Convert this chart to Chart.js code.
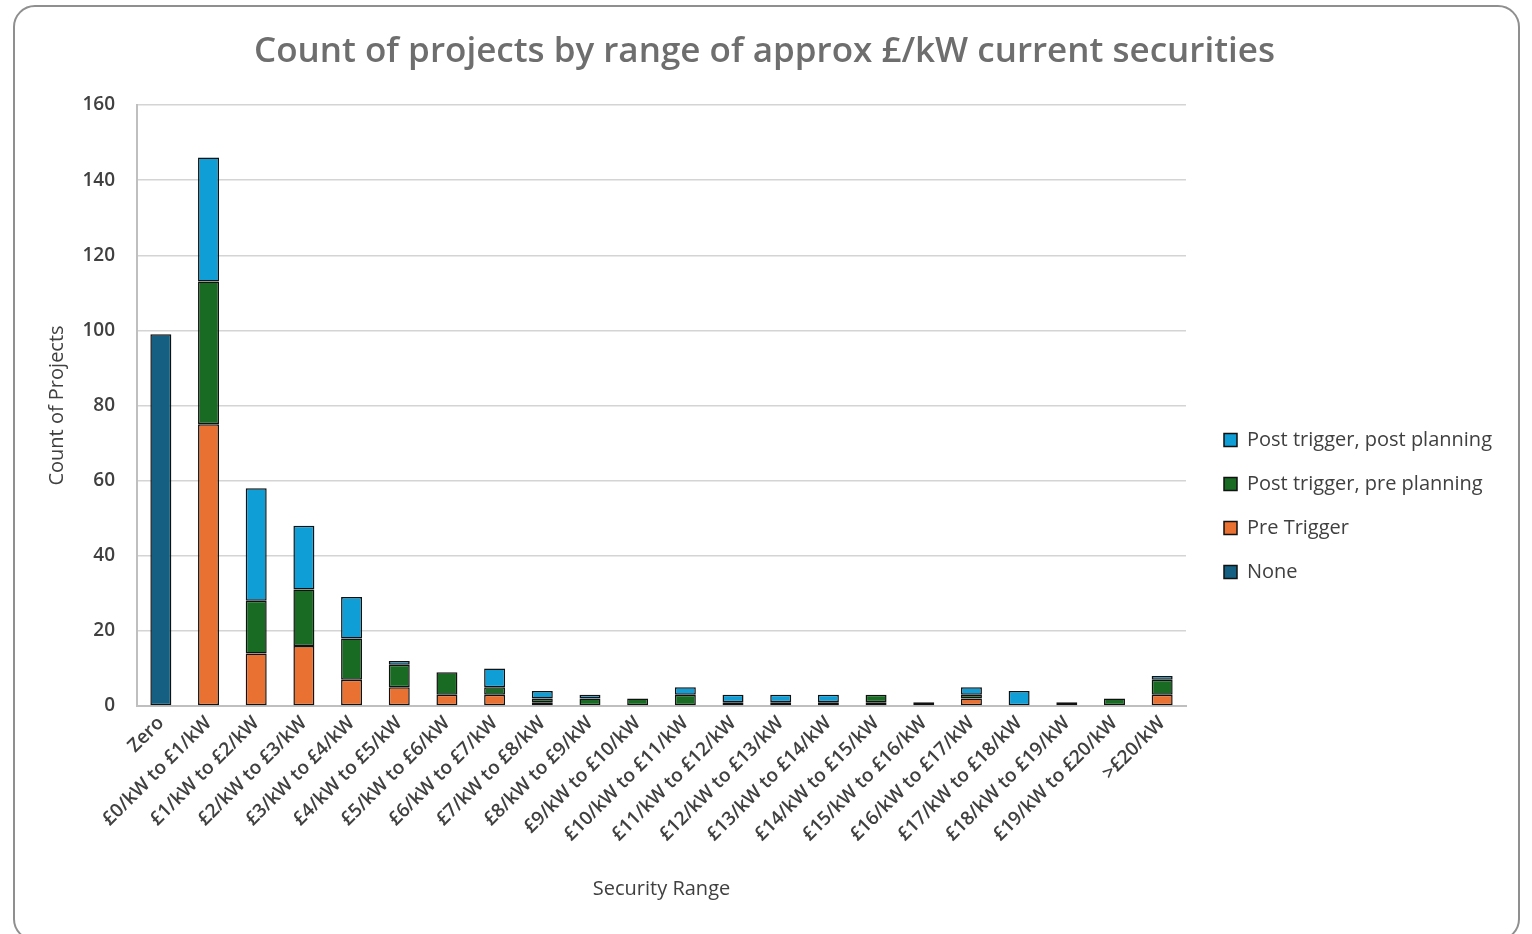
<!DOCTYPE html>
<html>
<head>
<meta charset="utf-8">
<script src="https://cdn.jsdelivr.net/npm/chart.js@4.4.1/dist/chart.umd.min.js"></script>
<style>
  html, body { margin: 0; padding: 0; background: #ffffff; }
  #frame { position: absolute; left: 13px; top: 5px; width: 1507px; height: 936px; border: 2px solid #8f8f8f; border-radius: 22px; box-sizing: border-box; }
  #wrap { position: absolute; left: 0; top: 0; width: 1532px; height: 934px; }
</style>
</head>
<body>
<div id="frame"></div>
<div id="wrap"><canvas id="c" width="1532" height="934"></canvas></div>
<script>
const categories = ["Zero","£0/kW to £1/kW","£1/kW to £2/kW","£2/kW to £3/kW","£3/kW to £4/kW","£4/kW to £5/kW","£5/kW to £6/kW","£6/kW to £7/kW","£7/kW to £8/kW","£8/kW to £9/kW","£9/kW to £10/kW","£10/kW to £11/kW","£11/kW to £12/kW","£12/kW to £13/kW","£13/kW to £14/kW","£14/kW to £15/kW","£15/kW to £16/kW","£16/kW to £17/kW","£17/kW to £18/kW","£18/kW to £19/kW","£19/kW to £20/kW",">£20/kW"];
const noneVals        = [99, 0, 0, 0, 0, 0, 0, 0, 0, 0, 0, 0, 0, 0, 0, 0, 0, 0, 0, 0, 0, 0];
const preTrigger      = [0, 75, 14, 16, 7, 5, 3, 3, 1, 0, 0, 0, 0, 0, 0, 1, 1, 2, 0, 0, 0, 3];
const postPrePlanning = [0, 38, 14, 15, 11, 6, 6, 2, 1, 2, 2, 3, 1, 1, 1, 2, 0, 1, 0, 0, 2, 4];
const postPostPlanning= [0, 33, 30, 17, 11, 1, 0, 5, 2, 1, 0, 2, 2, 2, 2, 0, 0, 2, 4, 1, 0, 1];
const yTicks = [0, 20, 40, 60, 80, 100, 120, 140, 160];

const nz = a => a.map(v => v === 0 ? null : v);
const FONT = "'Open Sans', 'Noto Sans', sans-serif";

const legendPlace = {
  id: 'legendPlace',
  afterLayout(chart) {
    const lg = chart.legend;
    const w = lg.width;
    lg.left = 1200; lg.right = 1200 + w;
    lg.top = 406; lg.bottom = 406 + 220;
  }
};

new Chart(document.getElementById('c'), {
  type: 'bar',
  data: {
    labels: categories,
    datasets: [
      { label: 'None', data: nz(noneVals), backgroundColor: '#156082' },
      { label: 'Pre Trigger', data: nz(preTrigger), backgroundColor: '#E97132' },
      { label: 'Post trigger, pre planning', data: nz(postPrePlanning), backgroundColor: '#196B24' },
      { label: 'Post trigger, post planning', data: nz(postPostPlanning), backgroundColor: '#0F9ED5' }
    ].map(d => Object.assign(d, { borderColor: '#111111', borderWidth: 1.5, borderSkipped: false, categoryPercentage: 1.0, barPercentage: 0.44 }))
  },
  options: {
    responsive: false,
    animation: false,
    devicePixelRatio: 1,
    layout: { padding: { top: 10, left: 41, right: 44, bottom: 33 } },
    plugins: {
      title: {
        display: true,
        text: 'Count of projects by range of approx £/kW current securities',
        color: '#6e6e6e',
        font: { family: FONT, size: 35, weight: '600' },
        padding: { top: 21, bottom: 32 }
      },
      legend: {
        position: 'right',
        align: 'start',
        reverse: true,
        labels: {
          color: '#404040',
          font: { family: FONT, size: 20 },
          boxWidth: 13, boxHeight: 13,
          padding: 24
        }
      },
      tooltip: { enabled: false }
    },
    scales: {
      x: {
        stacked: true,
        grid: { display: false, drawTicks: false },
        border: { color: '#bfbfbf', width: 2 },
        ticks: { color: '#404040', font: { family: FONT, size: 19, weight: '600' }, minRotation: 45, maxRotation: 45, padding: 6, autoSkip: false },
        title: { display: true, text: 'Security Range', color: '#404040', font: { family: FONT, size: 20 }, padding: { top: 4, bottom: 0 } },
        afterFit: s => { s.height = 934 - 706 - 33; }
      },
      y: {
        stacked: true,
        min: 0, max: 160,
        afterBuildTicks: s => { s.ticks = yTicks.map(v => ({ value: v })); },
        grid: { color: '#d4d4d4', lineWidth: 1.5, drawTicks: false },
        border: { color: '#bfbfbf', width: 2 },
        ticks: { color: '#404040', font: { family: FONT, size: 19, weight: '600' }, padding: 22 },
        title: { display: true, text: 'Count of Projects', color: '#404040', font: { family: FONT, size: 20 }, padding: { bottom: 10 } },
        afterFit: s => { s.width = 137 - 41; }
      }
    }
  },
  plugins: [legendPlace]
});
</script>
</body>
</html>
